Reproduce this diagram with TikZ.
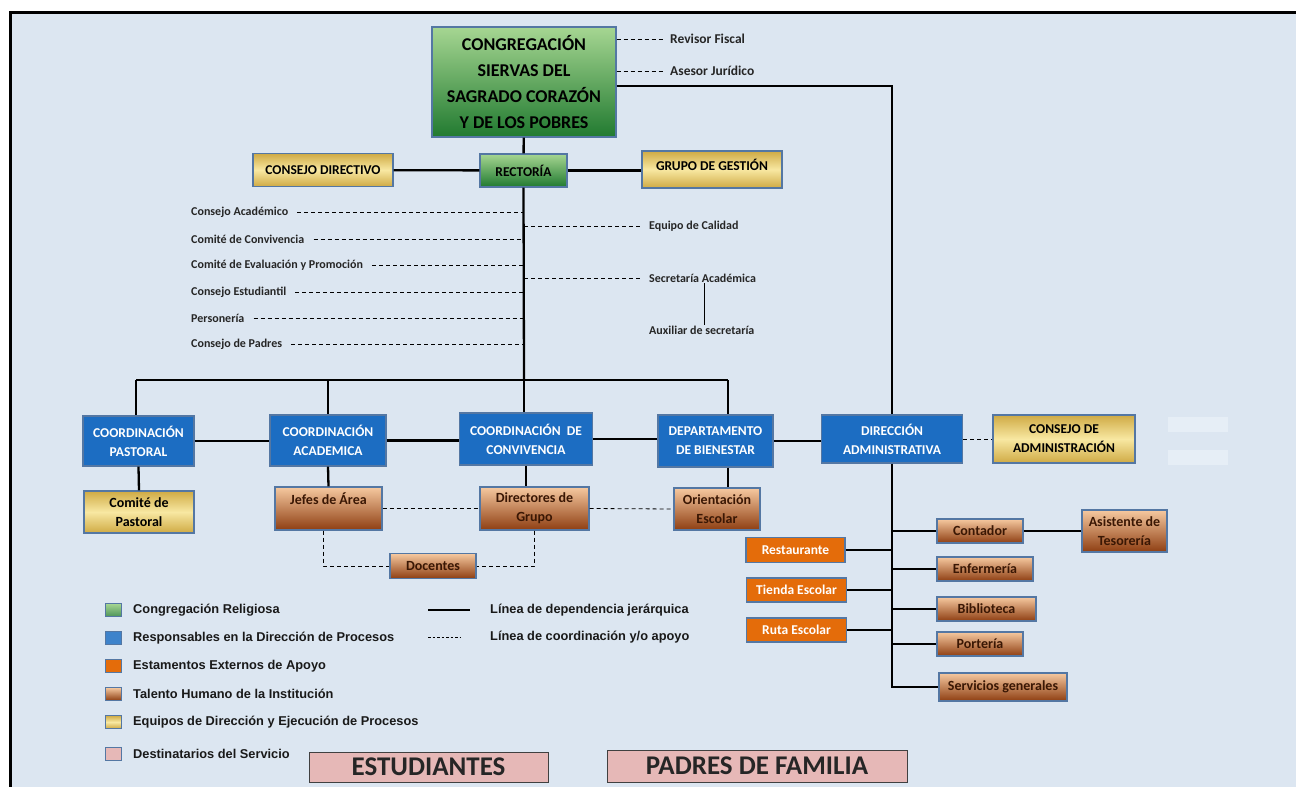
\documentclass[tikz,border=0pt]{standalone}
\usepackage{fontspec}
\setmainfont{Carlito}
\newfontfamily\legendfont{Liberation Sans}
\usepackage{tikz}

\definecolor{bgblue}{HTML}{DCE6F1}
\definecolor{paleblue}{HTML}{E6EEF6}
\definecolor{boxline}{HTML}{5477A3}
\definecolor{greenA}{HTML}{A6D692}
\definecolor{greenB}{HTML}{217A30}
\definecolor{procblue}{HTML}{1C6DC2}
\definecolor{goldA}{HTML}{CFAA44}
\definecolor{goldB}{HTML}{F8E8A2}
\definecolor{brownA}{HTML}{F6C9A0}
\definecolor{brownB}{HTML}{8E3E12}
\definecolor{browntext}{HTML}{3A1704}
\definecolor{extorange}{HTML}{E46C0A}
\definecolor{pinkfill}{HTML}{E6B8B7}
\definecolor{lbltext}{HTML}{262626}

\begin{document}
\begin{tikzpicture}[x=1pt, y=-1pt,
    box/.style={draw=boxline, line width=1.2pt, inner sep=0pt, align=center,
        font=\bfseries\fontsize{13.5}{19}\selectfont},
    congbox/.style={box, top color=greenA, bottom color=greenB, text=black},
    procbox/.style={box, fill=procblue, text=white},
    teambox/.style={box, top color=goldA, bottom color=goldA, middle color=goldB, text=black},
    staffbox/.style={box, top color=brownA, bottom color=brownB, text=browntext,
        font=\bfseries\fontsize{14}{19}\selectfont},
    extbox/.style={box, fill=extorange, text=white, font=\bfseries\fontsize{13.5}{15}\selectfont},
    destbox/.style={draw=black!75, line width=1pt, fill=pinkfill, inner sep=0pt,
        font=\bfseries\fontsize{27}{28}\selectfont, text=black!85},
    lbl/.style={anchor=west, inner sep=1pt, font=\bfseries\fontsize{12}{14}\selectfont, text=lbltext},
    dep/.style={line width=2.3pt},
    coord/.style={line width=0.8pt, dash pattern=on 4pt off 3pt},
    swatch/.style={draw=boxline, line width=1pt, minimum width=16pt, minimum height=13pt, inner sep=0pt},
    leg/.style={anchor=west, inner sep=0pt, font=\legendfont\bfseries\fontsize{12.8}{14}\selectfont, text=black!90}]

    % Page and frame
    \useasboundingbox (0,0) rectangle (1296,787);
    \fill[white] (0,0) rectangle (1296,787);
    \fill[bgblue] (10,12) rectangle (1296,787);
    \draw[line width=3pt] (10,787) -- (10,12) -- (1296,12);
    \fill[paleblue] (1168,417) rectangle (1228,432);
    \fill[paleblue] (1168,450) rectangle (1228,465);

    % Nodes
    \node[congbox, minimum width=184pt, minimum height=110pt, font=\bfseries\fontsize{18}{26}\selectfont]
        (cong) at (524,82) {CONGREGACIÓN\\SIERVAS DEL\\SAGRADO CORAZÓN\\Y DE LOS POBRES};
    \node[lbl, font=\bfseries\fontsize{13.5}{15}\selectfont] (revisor) at (669,39) {Revisor Fiscal};
    \node[lbl, font=\bfseries\fontsize{13.5}{15}\selectfont] (asesor) at (669,71) {Asesor Jurídico};

    \node[congbox, minimum width=87pt, minimum height=33pt] (rect) at (523.5,170.5) {RECTORÍA};
    \node[teambox, minimum width=140pt, minimum height=33pt] (cdir) at (323,170) {CONSEJO DIRECTIVO};
    \node[teambox, minimum width=140pt, minimum height=37pt, text depth=9pt] (gges) at (712,169.5) {GRUPO DE GESTIÓN};

    \node[lbl] (cacad) at (190,212) {Consejo Académico};
    \node[lbl] (cconvi) at (190,239) {Comité de Convivencia};
    \node[lbl] (ceval) at (190,265) {Comité de Evaluación y Promoción};
    \node[lbl] (cestu) at (190,292) {Consejo Estudiantil};
    \node[lbl] (perso) at (190,318) {Personería};
    \node[lbl] (cpadr) at (190,344) {Consejo de Padres};
    \node[lbl] (calid) at (648,226) {Equipo de Calidad};
    \node[lbl] (secac) at (648,278) {Secretaría Académica};
    \node[lbl] (auxsec) at (648,330) {Auxiliar de secretaría};

    \coordinate (bus) at (524,380);
    \coordinate (busL) at (136,380);
    \coordinate (busR) at (728,380);

    \node[procbox, minimum width=111pt, minimum height=50pt] (cpas) at (138.5,441) {COORDINACIÓN\\PASTORAL};
    \node[procbox, minimum width=116pt, minimum height=51pt] (caca) at (328,440.5) {COORDINACIÓN\\ACADEMICA};
    \node[procbox, minimum width=133pt, minimum height=52pt] (cconv) at (526,439) {COORDINACIÓN~ DE\\CONVIVENCIA};
    \node[procbox, minimum width=115pt, minimum height=52pt] (dbien) at (715.5,441) {DEPARTAMENTO\\DE BIENESTAR};
    \node[procbox, minimum width=141pt, minimum height=48pt] (dadm) at (892,439) {DIRECCIÓN\\ADMINISTRATIVA};
    \node[teambox, minimum width=142pt, minimum height=48pt] (cadm) at (1064,439) {CONSEJO DE\\ADMINISTRACIÓN};

    \node[teambox, minimum width=110pt, minimum height=42pt, font=\bfseries\fontsize{14}{19}\selectfont]
        (cpast) at (139,512) {Comité de\\Pastoral};
    \node[staffbox, minimum width=107pt, minimum height=43pt] (jefes) at (328.5,508.5) {Jefes de Área\\\mbox{}};
    \node[staffbox, minimum width=109pt, minimum height=43pt] (dirg) at (534.5,508.5) {Directores de\\Grupo};
    \node[staffbox, minimum width=86pt, minimum height=42pt] (orient) at (717,509) {Orientación\\Escolar};
    \node[staffbox, minimum width=86pt, minimum height=25pt] (doc) at (433,566) {Docentes};

    \node[staffbox, minimum width=86pt, minimum height=24pt] (cont) at (980,531) {Contador};
    \node[staffbox, minimum width=85pt, minimum height=42pt] (asist) at (1124.5,531) {Asistente de\\Tesorería};
    \node[staffbox, minimum width=96pt, minimum height=24pt] (enf) at (985,569) {Enfermería};
    \node[staffbox, minimum width=99pt, minimum height=24pt] (bib) at (986.5,609) {Biblioteca};
    \node[staffbox, minimum width=86pt, minimum height=24pt] (port) at (980,644) {Portería};
    \node[staffbox, minimum width=128pt, minimum height=28pt] (serv) at (1003,687) {Servicios generales};
    \node[extbox, minimum width=99pt, minimum height=25pt] (rest) at (795.5,550) {Restaurante};
    \node[extbox, minimum width=100pt, minimum height=24pt] (tienda) at (796.5,590) {Tienda Escolar};
    \node[extbox, minimum width=100pt, minimum height=24pt] (ruta) at (796.5,630) {Ruta Escolar};

    \node[destbox, minimum width=239pt, minimum height=30pt] (estu) at (428.5,767) {ESTUDIANTES};
    \node[destbox, minimum width=300pt, minimum height=32pt] (padres) at (757,766) {PADRES DE FAMILIA};

    % Legend
    \node[swatch, top color=greenA, bottom color=greenB!80] (sw1) at (113.5,610) {};
    \node[swatch, fill=procblue!85!white] (sw2) at (113.5,638) {};
    \node[swatch, fill=extorange] (sw3) at (113.5,666) {};
    \node[swatch, top color=brownA, bottom color=brownB] (sw4) at (113.5,694) {};
    \node[swatch, top color=goldA, bottom color=goldA, middle color=goldB] (sw5) at (113.5,722) {};
    \node[swatch, fill=pinkfill] (sw6) at (113.5,754) {};
    \node[leg] (lg1) at (133,610) {Congregación Religiosa};
    \node[leg] (lg2) at (133,638) {Responsables en la Dirección de Procesos};
    \node[leg] (lg3) at (133,666) {Estamentos Externos de Apoyo};
    \node[leg] (lg4) at (133,694) {Talento Humano de la Institución};
    \node[leg] (lg5) at (133,722) {Equipos de Dirección y Ejecución de Procesos};
    \node[leg] (lg6) at (133,754) {Destinatarios del Servicio};
    \node[leg] (lgdep) at (490,610) {Línea de dependencia jerárquica};
    \node[leg] (lgcoo) at (490,637) {Línea de coordinación y/o apoyo};
    \coordinate (ldA) at (428,610);
    \coordinate (lcA) at (428,637);

    % Lines
    \draw[dep] (cong) -- (rect);
    \draw[dep] (cdir) -- (rect);
    \draw[dep] (rect) -- (gges.west |- rect);
    \draw[dep] ([yshift=-4pt]cong.east) -| (dadm.north);
    \draw[coord] (cong.east |- revisor) -- ([xshift=-6pt]revisor.west);
    \draw[coord] (cong.east |- asesor) -- ([xshift=-6pt]asesor.west);

    \draw[dep] (rect.south) -- (bus);
    \draw[dep] (busL) -- (busR);
    \draw[dep] (busL) -- (busL |- cpas.north);
    \draw[dep] (caca.north |- bus) -- (caca.north);
    \draw[dep] (bus) -- (bus |- cconv.north);
    \draw[dep] (busR) -- (busR |- dbien.north);

    \foreach \l in {cacad, cconvi, ceval, cestu, perso, cpadr}
        \draw[coord] ([xshift=8pt]\l.east) -- (\l.east -| bus);
    \draw[coord] (calid.west -| bus) -- ([xshift=-6pt]calid.west);
    \draw[coord] (secac.west -| bus) -- ([xshift=-6pt]secac.west);
    \draw[line width=1.6pt] ([xshift=2pt]secac.south) -- ([xshift=2pt]secac.south |- auxsec.north);

    \draw[dep] (cpas.east) -- (cpas.east -| caca.west);
    \draw[dep] (caca.east) -- (caca.east -| cconv.west);
    \draw[dep] (cconv.east) -- (cconv.east -| dbien.west);
    \draw[dep] (dbien.east) -- (dbien.east -| dadm.west);
    \draw[coord] (dadm.east) -- (cadm.west);

    \draw[dep] (cpas.south) -- (cpast.north);
    \draw[dep] (caca.south) -- (jefes.north);
    \draw[dep] (cconv.south) -- (cconv.south |- dirg.north);
    \draw[dep] (dbien.south -| busR) -- (orient.north -| busR);
    \draw[coord] (jefes.east) -- (dirg.west);
    \draw[coord] (dirg.east) -- (orient.west);
    \draw[coord] ([xshift=-5pt]jefes.south) |- (doc.west);
    \draw[coord] (dirg.south) |- (doc.east);

    \draw[dep] (dadm.south) -- (dadm.south |- serv.west) -- (serv.west);
    \foreach \b in {cont, enf, bib, port}
        \draw[dep] (\b.west -| dadm.south) -- (\b.west);
    \draw[dep] (cont) -- (asist);
    \foreach \b in {rest, tienda, ruta}
        \draw[dep] (\b.east) -- (\b.east -| dadm.south);

    \draw[line width=2.8pt] (ldA) -- ++(42,0);
    \draw[line width=0.7pt, dash pattern=on 2.5pt off 2pt] (lcA) -- ++(32,0);
\end{tikzpicture}
\end{document}
